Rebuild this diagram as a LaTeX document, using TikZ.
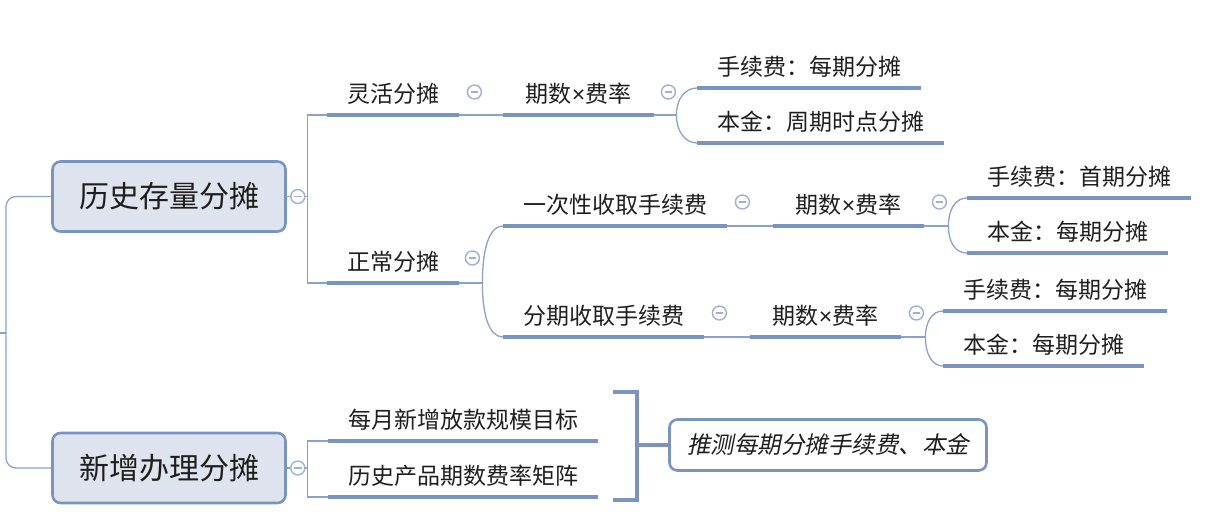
\documentclass[tikz,border=0pt]{standalone}
\usepackage{fontspec}
\setmainfont{Noto Sans CJK SC}
\newfontfamily\cjkit{Noto Sans CJK SC}[FakeSlant=0.2]
\newfontfamily\latin{Liberation Sans}
\usetikzlibrary{calc}
\definecolor{linecol}{RGB}{122, 148, 192}
\definecolor{thincol}{RGB}{138, 161, 201}
\definecolor{boxcol}{RGB}{222, 228, 237}
\definecolor{foldcol}{RGB}{158, 177, 211}
\definecolor{inkcol}{RGB}{30, 30, 30}
\newcommand{\mul}{{\latin ×}}
\tikzset{
  mainbox/.style = {draw=linecol, line width=2.6pt, fill=boxcol,
                    rounded corners=8pt, minimum width=233pt,
                    minimum height=70pt, text=inkcol,
                    font=\fontsize{30}{34}\selectfont},
  topic/.style   = {inner xsep=20pt, inner ysep=10pt, text height=20.2pt,
                    text depth=2.8pt, text=inkcol,
                    font=\fontsize{23}{27}\selectfont},
  rate/.style    = {topic, minimum width=151pt},
  uline/.style   = {draw=linecol, line width=4pt},
  link/.style    = {draw=thincol, line width=1.3pt},
  % the little collapse marks of the mind map
  fold/.style    = {circle, draw=foldcol, line width=1.4pt, fill=white,
                    minimum size=14pt, inner sep=0pt,
                    path picture={\draw[foldcol, line width=1.4pt]
                      ($(path picture bounding box.center)+(-3.8pt,0pt)$) --
                      ($(path picture bounding box.center)+(3.8pt,0pt)$);}},
  brace/.style   = {draw=linecol, line width=4pt},
  sumbox/.style  = {draw=linecol, line width=2.6pt, fill=white,
                    rounded corners=8pt, minimum width=317pt,
                    minimum height=51pt, text=inkcol,
                    font=\cjkit\fontsize{23.5}{27}\selectfont},
}

\begin{document}
\begin{tikzpicture}[x=1pt, y=-1pt]
  \useasboundingbox (0,0) rectangle (1226,528);

  %% ---------------- the two roots ----------------
  \node[mainbox] (hist) at (169,196.5) {历史存量分摊};
  \node[mainbox] (newb) at (169,468) {新增办理分摊};

  \coordinate (root) at (0,333);
  \coordinate (rootj) at (6,333);
  \draw[link] (root) -- (rootj);
  \draw[link, rounded corners=10pt] (hist.west) -| (rootj) |- (newb.west);

  %% ---------------- flexible spreading ----------------
  \node[topic, anchor=south west] (flex) at (327,115) {灵活分摊};
  \node[rate, anchor=south west] (rate1) at (503,115) {期数\mul 费率};
  \node[topic, anchor=south west] (fee1) at (697,88) {手续费：每期分摊};
  \node[topic, anchor=south west] (prin1) at (697,143) {本金：周期时点分摊};

  %% ---------------- normal spreading ----------------
  \node[topic, anchor=south west] (normal) at (327,283) {正常分摊};
  \node[topic, anchor=south west] (once) at (503,226) {一次性收取手续费};
  \node[rate, anchor=south west] (rate2) at (773,226) {期数\mul 费率};
  \node[topic, anchor=south west] (fee2) at (967,198) {手续费：首期分摊};
  \node[topic, anchor=south west] (prin2) at (967,253) {本金：每期分摊};
  \node[topic, anchor=south west] (inst) at (503,337) {分期收取手续费};
  \node[rate, anchor=south west] (rate3) at (750,337) {期数\mul 费率};
  \node[topic, anchor=south west] (fee3) at (943,311) {手续费：每期分摊};
  \node[topic, anchor=south west] (prin3) at (943,366) {本金：每期分摊};

  %% ---------------- new business ----------------
  \node[topic, anchor=south west] (goal) at (328,441) {每月新增放款规模目标};
  \node[topic, anchor=south west] (matrix) at (328,497) {历史产品期数费率矩阵};
  \node[sumbox] (guess) at (828,445) {推测每期分摊手续费、本金};

  %% ---------------- branches ----------------
  \coordinate (histj) at ($(hist.east)+(21,0)$);
  \draw[link] (hist.east) -- (histj);
  \draw[link] (flex.south west) -| (histj) |- (normal.south west);

  \draw[link] (flex.south east) -- (rate1.south west);
  \coordinate (b1) at ($(rate1.south east)+(22,0)$);
  \draw[link] (rate1.south east) -- (b1);
  \draw[link] (b1) .. controls +(0,-16) and +(-12,0) .. (fee1.south west);
  \draw[link] (b1) .. controls +(0,16) and +(-12,0) .. (prin1.south west);

  \coordinate (b2) at ($(normal.south east)+(23,0)$);
  \draw[link] (normal.south east) -- (b2);
  \draw[link] (b2) .. controls +(0,-34) and +(-14,0) .. (once.south west);
  \draw[link] (b2) .. controls +(0,32) and +(-14,0) .. (inst.south west);

  \draw[link] (once.south east) -- (rate2.south west);
  \coordinate (b3) at ($(rate2.south east)+(24,0)$);
  \draw[link] (rate2.south east) -- (b3);
  \draw[link] (b3) .. controls +(0,-16) and +(-12,0) .. (fee2.south west);
  \draw[link] (b3) .. controls +(0,16) and +(-12,0) .. (prin2.south west);

  \draw[link] (inst.south east) -- (rate3.south west);
  \coordinate (b4) at ($(rate3.south east)+(24,0)$);
  \draw[link] (rate3.south east) -- (b4);
  \draw[link] (b4) .. controls +(0,-15) and +(-11,0) .. (fee3.south west);
  \draw[link] (b4) .. controls +(0,17) and +(-11,0) .. (prin3.south west);

  \coordinate (newj) at ($(newb.east)+(21,0)$);
  \draw[link] (newb.east) -- (newj);
  \draw[link] (goal.south west) -| (newj) |- (matrix.south west);

  %% ---------------- underlines ----------------
  \draw[uline] (flex.south west) -- (flex.south east);
  \draw[uline] (rate1.south west) -- (rate1.south east);
  \draw[uline] (fee1.south west) -- (fee1.south east);
  \draw[uline] (prin1.south west) -- (prin1.south east);
  \draw[uline] (normal.south west) -- (normal.south east);
  \draw[uline] (once.south west) -- (once.south east);
  \draw[uline] (rate2.south west) -- (rate2.south east);
  \draw[uline] (fee2.south west) -- (fee2.south east);
  \draw[uline] (prin2.south west) -- (prin2.south east);
  \draw[uline] (inst.south west) -- (inst.south east);
  \draw[uline] (rate3.south west) -- (rate3.south east);
  \draw[uline] (fee3.south west) -- (fee3.south east);
  \draw[uline] (prin3.south west) -- (prin3.south east);
  \draw[uline] (goal.south west) -- (goal.south east);
  \draw[uline] (matrix.south west) -- (matrix.south east);

  %% ---------------- the summary bracket ----------------
  \coordinate (brtop) at ($(goal.north east)+(15,-6)$);
  \coordinate (brx) at ($(brtop)+(24,0)$);
  \coordinate (brbot) at ($(matrix.south east)+(15,3)$);
  \draw[brace] (brtop) -- (brx) |- (brbot);
  \draw[brace] (brx |- guess.west) -- (guess.west);

  %% ---------------- fold marks ----------------
  \node[fold] (fhist) at ($(hist.east)+(11,0)$) {};
  \node[fold] (fnewb) at ($(newb.east)+(11,0)$) {};
  \node[fold] (fflex) at ($(flex.south east)+(15,-23)$) {};
  \node[fold] (frate1) at ($(rate1.south east)+(14,-23)$) {};
  \node[fold] (fnormal) at ($(normal.south east)+(13,-25)$) {};
  \node[fold] (fonce) at ($(once.south east)+(15,-24)$) {};
  \node[fold] (frate2) at ($(rate2.south east)+(15,-24)$) {};
  \node[fold] (finst) at ($(inst.south east)+(15,-24)$) {};
  \node[fold] (frate3) at ($(rate3.south east)+(15,-24)$) {};

\end{tikzpicture}
\end{document}
